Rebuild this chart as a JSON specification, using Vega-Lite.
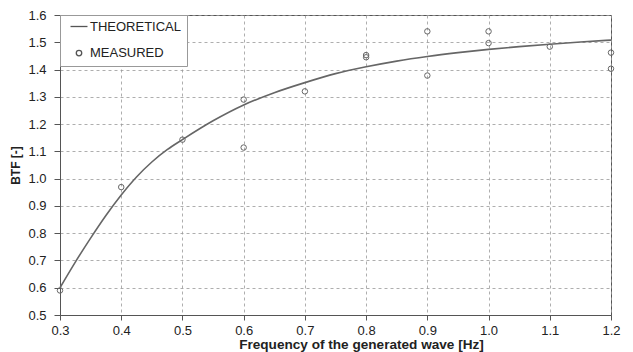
{
  "$schema": "https://vega.github.io/schema/vega-lite/v6.json",
  "autosize": "none",
  "width": 551,
  "height": 300,
  "padding": {"left": 60, "top": 15, "right": 22, "bottom": 37},
  "background": "white",
  "config": {
    "font": "Liberation Sans",
    "view": {"stroke": "#555", "strokeWidth": 1},
    "axis": {
      "labelFont": "Liberation Sans",
      "labelFontSize": 13,
      "labelColor": "#222",
      "labelFlush": false,
      "titleFont": "Liberation Sans",
      "titleFontWeight": "bold",
      "titleColor": "#222",
      "domainColor": "#555",
      "tickColor": "#555",
      "gridColor": "#999",
      "gridDash": [3, 3],
      "gridWidth": 0.8
    },
    "legend": {
      "labelFont": "Liberation Sans",
      "labelFontSize": 13,
      "labelColor": "#222"
    }
  },
  "datasets": {
    "theory": [
      {"f": 0.3, "btf": 0.6},
      {"f": 0.325, "btf": 0.694},
      {"f": 0.35, "btf": 0.782},
      {"f": 0.375, "btf": 0.865},
      {"f": 0.4, "btf": 0.94},
      {"f": 0.425, "btf": 1.006},
      {"f": 0.45, "btf": 1.061},
      {"f": 0.475, "btf": 1.106},
      {"f": 0.5, "btf": 1.143},
      {"f": 0.55, "btf": 1.212},
      {"f": 0.6, "btf": 1.27},
      {"f": 0.65, "btf": 1.315},
      {"f": 0.7, "btf": 1.352},
      {"f": 0.75, "btf": 1.385},
      {"f": 0.8, "btf": 1.41},
      {"f": 0.85, "btf": 1.431},
      {"f": 0.9, "btf": 1.448},
      {"f": 0.95, "btf": 1.462},
      {"f": 1.0, "btf": 1.474},
      {"f": 1.05, "btf": 1.484},
      {"f": 1.1, "btf": 1.493},
      {"f": 1.15, "btf": 1.501},
      {"f": 1.2, "btf": 1.508}
    ],
    "measured": [
      {"f": 0.3, "btf": 0.59, "series": "MEASURED"},
      {"f": 0.4, "btf": 0.969, "series": "MEASURED"},
      {"f": 0.5, "btf": 1.143, "series": "MEASURED"},
      {"f": 0.6, "btf": 1.29, "series": "MEASURED"},
      {"f": 0.6, "btf": 1.114, "series": "MEASURED"},
      {"f": 0.7, "btf": 1.32, "series": "MEASURED"},
      {"f": 0.8, "btf": 1.453, "series": "MEASURED"},
      {"f": 0.8, "btf": 1.445, "series": "MEASURED"},
      {"f": 0.9, "btf": 1.54, "series": "MEASURED"},
      {"f": 0.9, "btf": 1.378, "series": "MEASURED"},
      {"f": 1.0, "btf": 1.54, "series": "MEASURED"},
      {"f": 1.0, "btf": 1.497, "series": "MEASURED"},
      {"f": 1.1, "btf": 1.484, "series": "MEASURED"},
      {"f": 1.2, "btf": 1.462, "series": "MEASURED"},
      {"f": 1.2, "btf": 1.403, "series": "MEASURED"}
    ]
  },
  "encoding": {
    "x": {
      "field": "f",
      "type": "quantitative",
      "scale": {"domain": [0.3, 1.2], "nice": false, "zero": false},
      "axis": {"values": [0.3, 0.4, 0.5, 0.6, 0.7, 0.8, 0.9, 1.0, 1.1, 1.2], "format": ".1f", "title": "Frequency of the generated wave [Hz]", "tickSize": 5, "labelPadding": 4, "titleFontSize": 13.6, "titlePadding": 0, "titleX": 301, "titleAlign": "center"}
    },
    "y": {
      "field": "btf",
      "type": "quantitative",
      "scale": {"domain": [0.5, 1.6], "nice": false, "zero": false},
      "axis": {"values": [0.5, 0.6, 0.7, 0.8, 0.9, 1.0, 1.1, 1.2, 1.3, 1.4, 1.5, 1.6], "format": ".1f", "title": "BTF [-]", "tickSize": 6, "labelPadding": 8, "titleFontSize": 12, "titlePadding": 5}
    }
  },
  "layer": [
    {
      "data": {"name": "theory"},
      "mark": {"type": "line", "color": "#666", "strokeWidth": 1.6, "interpolate": "monotone"}
    },
    {
      "data": {"name": "measured"},
      "mark": {"type": "point", "filled": false, "color": "#666", "size": 30, "strokeWidth": 1, "opacity": 1},
      "encoding": {
        "shape": {
          "field": "series",
          "type": "nominal",
          "scale": {"domain": ["THEORETICAL", "MEASURED"], "range": ["M-3.1,0H3.1", "circle"]},
          "legend": {
            "title": null,
            "orient": "top-left",
            "offset": 0,
            "padding": 5,
            "rowPadding": 12.6,
            "strokeColor": "#999",
            "fillColor": "white",
            "symbolStrokeColor": "#555",
            "symbolStrokeWidth": 1.3,
            "symbolSize": 30,
            "symbolOffset": 7.5,
            "labelOffset": 4.5,
            "labelExpr": "datum.label + '\u00a0\u00a0'"
          }
        }
      }
    }
  ]
}
